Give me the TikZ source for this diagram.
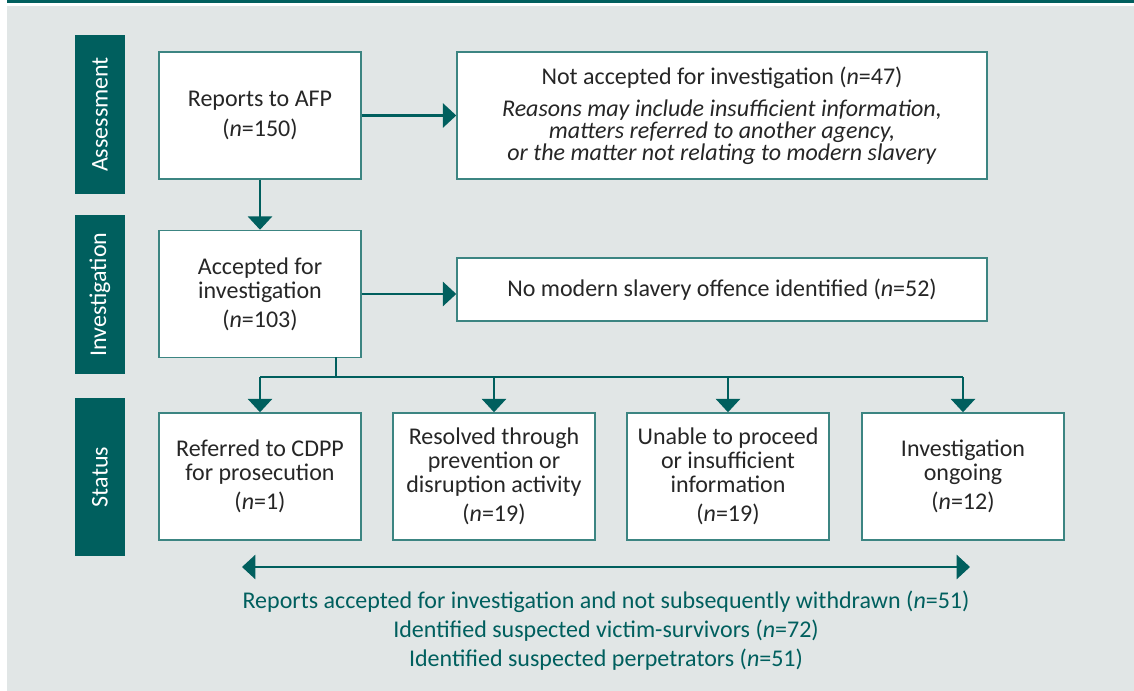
\documentclass[tikz,border=0pt]{standalone}
\usepackage{fontspec}
\setmainfont{Carlito}
\usepackage{tikz}
\usetikzlibrary{arrows.meta, calc}

\definecolor{afpteal}{HTML}{005F5E}
\definecolor{afpgrey}{HTML}{E1E6E6}
\definecolor{afpline}{HTML}{3C8582}
\definecolor{afptext}{HTML}{262626}

\newcommand{\nval}[1]{(\textit{n}=#1)}

\begin{document}
\begin{tikzpicture}[x=0.75pt, y=-0.75pt,
    every node/.style={font=\fontsize{18}{18}\selectfont},
    flowbox/.style={draw=afpline, line width=1.1pt, fill=white, text=afptext, align=center, inner sep=0pt},
    smallbox/.style={flowbox, minimum width=151.5pt, minimum height=95.25pt},
    widebox/.style={flowbox, minimum width=397.5pt},
    stagebar/.style={fill=afpteal, draw=none},
    stagelabel/.style={text=white, rotate=90, font=\fontsize{18}{18}\selectfont},
    arr/.style={draw=afpteal, line width=1.9pt, -{Triangle[length=10pt, width=18pt]}},
    link/.style={draw=afpteal, line width=1.9pt}]
        \useasboundingbox (0,0) rectangle (1134,691);
        \fill[white] (0,0) rectangle (1134,691);
        \fill[afpteal] (7,0) rectangle (1134,3);
        \fill[afpgrey] (7,6) rectangle (1134,691);
        
        % stage bars
        \fill[stagebar] (75,35) rectangle (125,194);
        \fill[stagebar] (75,215) rectangle (125,374);
        \fill[stagebar] (75,398) rectangle (125,556);
        \node[stagelabel] (assess) at (100,114.5) {Assessment};
        \node[stagelabel] (invest) at (100,294.5) {Investigation};
        \node[stagelabel] (status) at (100,477) {Status};
        
        % assessment
        \node[smallbox] (reports) at (260,115.5) {Reports to AFP\\[4.5pt]\nval{150}};
        \node[widebox, minimum height=95.25pt, font=\fontsize{18}{16.5}\selectfont] (notacc) at (722,115.5)
            {Not accepted for investigation \nval{47}\\[7.5pt]
             \textit{Reasons may include insufficient information,}\\
             \textit{matters referred to another agency,}\\
             \textit{or the matter not relating to modern slavery}};
        \draw[arr] (reports.east) -- (reports.east -| notacc.west);
        
        % investigation
        \node[smallbox] (accepted) at (260,294) {Accepted for\\investigation\\[3.75pt]\nval{103}};
        \node[widebox, minimum height=47.25pt] (noslavery) at (722,289.5)
            {No modern slavery offence identified \nval{52}};
        \draw[arr] (reports.south) -- (accepted.north);
        \draw[arr] (accepted.east) -- (accepted.east -| noslavery.west);
        
        % status
        \node[smallbox] (cdpp) at (260,476.5) {Referred to CDPP\\for prosecution\\[3.75pt]\nval{1}};
        \node[smallbox] (resolved) at (494,476.5) {Resolved through\\prevention or\\disruption activity\\[3.75pt]\nval{19}};
        \node[smallbox] (unable) at (728,476.5) {Unable to proceed\\or insufficient\\information\\[3.75pt]\nval{19}};
        \node[smallbox] (ongoing) at (963,476.5) {Investigation\\ongoing\\[3.75pt]\nval{12}};
        
        \coordinate (split) at (336,377);
        \draw[link] (336,357) -- (split);
        \draw[link] (split -| cdpp.north) -- (split -| ongoing.north);
        \foreach \b in {cdpp, resolved, unable, ongoing}
            \draw[arr] (split -| \b.north) -- (\b.north);
        
        % totals
        \coordinate (spanL) at (242,567);
        \coordinate (spanR) at (970,567);
        \draw[link, {Triangle[length=10pt, width=18pt]}-{Triangle[length=10pt, width=18pt]}] (spanL) -- (spanR);
        \node[text=afpteal, align=center, font=\fontsize{18}{21.75}\selectfont] (totals) at (606,631)
            {Reports accepted for investigation and not subsequently withdrawn \nval{51}\\
             Identified suspected victim-survivors \nval{72}\\
             Identified suspected perpetrators \nval{51}};
    \end{tikzpicture}
\end{document}
